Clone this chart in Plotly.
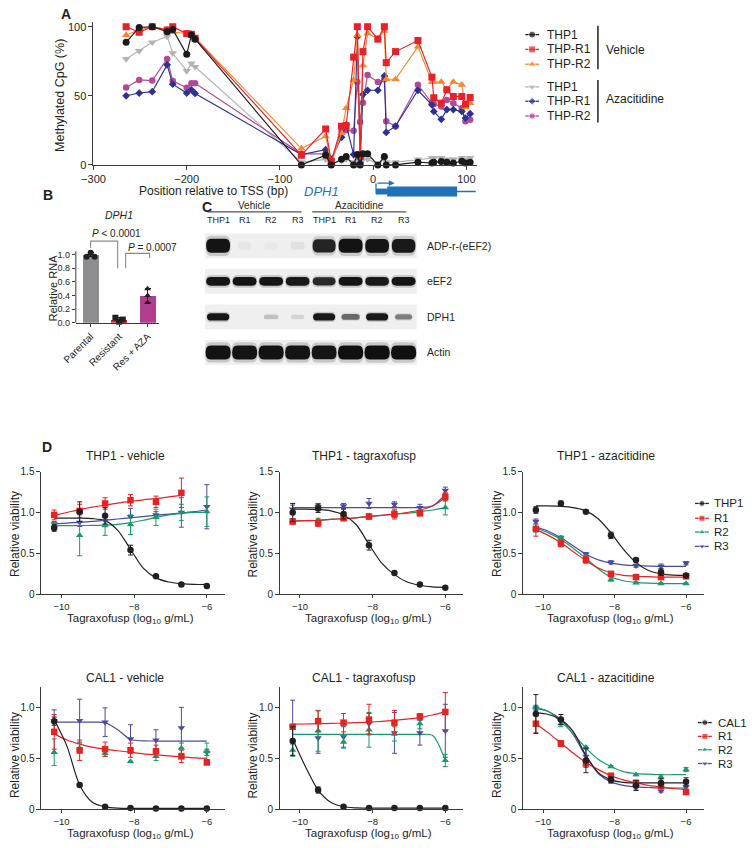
import plotly.graph_objects as go

W, H = 752, 848
FONT = "Liberation Sans, Arial, Helvetica, sans-serif"
INK = "#231f20"
AXC = "#3a3a3a"

# ============================ DATA ============================
# ---- Panel A : CpG methylation (%) along DPH1 promoter ----
cpg_position = [-265, -251, -237, -221, -215, -200, -195, -191, -77, -51, -45, -34, -29, -21, -17,
                -14, -11, -6, 5, 12, 14, 24, 48, 63, 65, 73, 79, 86, 95, 99, 104]
meth_thp1_vehicle = [88.7, 99.5, 100, 96.4, 98, 80, 94, 91, 0, 7, 0, 4, 6, 0, 7.5,
                     0, 8, 8, 0, 6, 0, 0, 2, 1.4, 2, 2.4, 2, 1.4, 2.6, 1.4, 2]
meth_r1_vehicle = [100, 96, 100, 97.6, 100, 95, 94.5, 91.6, 7, 26, 2.6, 28, 28.4, 78, 100,
                   6, 82, 100, 91, 100, 74, 82, 90, 63.5, 48.6, 44.7, 54.3, 49.5, 49.5, 44, 48.8]
meth_r2_vehicle = [94, 97.6, 100, 98, 96, 95, 95, 92, 11.8, 20.7, 1.4, 23, 41, 61.5, 94,
                   6, 72, 95, 91.6, 97, 62, 62, 85.6, 60, 60, 60, 55, 60, 58, 41.6, 44.7]
meth_thp1_aza = [76.7, 82.5, 88.7, 93, 80.8, 68, 73.5, 71, 2, 4, 1, 3, 4, 2, 3,
                 1, 4, 4, 1, 4, 2, 2, 4, 5, 5, 5, 4, 4, 5, 4, 5]
meth_r1_aza = [50, 52, 53, 72.4, 58.4, 52, 54.3, 51.7, 7.5, 11, 4, 20, 29, 7.5, 92.8,
               1.4, 51, 54, 54, 64.4, 23.5, 28, 54, 43.5, 38.7, 33, 40, 40, 38.7, 33.9, 37]
meth_r2_aza = [56, 61.5, 61, 76.7, 60.8, 55.8, 59, 59, 8, 8, 2.6, 24, 25, 24.8, 60,
               31, 45, 65, 60, 62, 31.5, 28, 58, 44.7, 44, 42.3, 47, 44.7, 41, 31.5, 32.7]
a_legend_names = ["THP1", "THP-R1", "THP-R2", "THP1", "THP-R1", "THP-R2"]
a_groups = ["Vehicle", "Azacitidine"]
a_xticks = [-300, -200, -100, 0, 100]
a_yticks = [0, 50, 100]

# gene model (bp relative to TSS)
gene_name = "DPH1"
gene_tss = 3
gene_utr = [3, 15]
gene_cds = [15, 90]
gene_end = 110

# ---- Panel B : DPH1 relative RNA ----
b_groups = ["Parental", "Resistant", "Res + AZA"]
b_mean = [1.0, 0.045, 0.40]
b_sd = [0.03, 0.03, 0.10]
b_pts_parental = [1.03, 0.97, 0.97]
b_pts_resistant = [0.075, 0.048, 0.016]
b_pts_aza = [0.50, 0.40, 0.30]
b_pvalues = ["<i>P</i> < 0.0001", "<i>P</i> = 0.0007"]
b_yticks = [0, 0.2, 0.4, 0.6, 0.8, 1.0]

# ---- Panel C : western blot band intensities (0-1) ----
blot_lanes = ["THP1", "R1", "R2", "R3", "THP1", "R1", "R2", "R3"]
blot_treatments = ["Vehicle", "Azacitidine"]
blot_proteins = ["ADP-r-(eEF2)", "eEF2", "DPH1", "Actin"]
band_adpr = [0.96, 0.03, 0.02, 0.05, 0.88, 0.97, 0.95, 0.93]
band_eef2 = [0.95, 0.95, 0.95, 0.93, 0.85, 0.95, 0.93, 0.95]
band_dph1 = [0.95, 0.0, 0.18, 0.10, 0.93, 0.55, 0.93, 0.45]
band_actin = [0.97, 0.96, 0.97, 0.96, 0.95, 0.98, 0.98, 0.98]

# ---- Panel D : viability vs tagraxofusp dose ----
dose_log = [-10.2, -9.5, -8.8, -8.1, -7.4, -6.7, -6.0]
fit_log = [-10.2, -9.85, -9.5, -9.15, -8.8, -8.45, -8.1, -7.75, -7.4, -7.05, -6.7, -6.35, -6.0]
d_xticks = [-10, -8, -6]
d_xticktext = ["\u221210", "\u22128", "\u22126"]
d_titles = ["THP1 - vehicle", "THP1 - tagraxofusp", "THP1 - azacitidine",
            "CAL1 - vehicle", "CAL1 - tagraxofusp", "CAL1 - azacitidine"]
d_names_thp1 = ["THP1", "R1", "R2", "R3"]
d_names_cal1 = ["CAL1", "R1", "R2", "R3"]

# THP1 - vehicle
tv_thp1 = [0.81, 1.01, 0.96, 0.54, 0.22, 0.12, 0.10]
tv_thp1_sd = [0.04, 0.12, 0.10, 0.06, 0.01, 0.01, 0.01]
tv_thp1_fit = [0.93, 0.93, 0.93, 0.925, 0.90, 0.78, 0.55, 0.32, 0.20, 0.15, 0.13, 0.12, 0.12]
tv_r1 = [0.97, 1.02, 1.11, 1.15, 1.13, 1.24, None]
tv_r1_sd = [0.06, 0.08, 0.07, 0.07, 0.07, 0.18, 0]
tv_r1_fit = [0.965, 1.0, 1.035, 1.065, 1.09, 1.115, 1.135, 1.155, 1.17, 1.19, 1.21, None, None]
tv_r2 = [0.84, 0.72, 0.84, 0.85, 0.94, 1.00, 1.01]
tv_r2_sd = [0.03, 0.25, 0.12, 0.12, 0.10, 0.10, 0.18]
tv_r2_fit = [0.84, 0.84, 0.84, 0.842, 0.845, 0.855, 0.875, 0.905, 0.94, 0.97, 0.99, 1.0, 1.005]
tv_r3 = [0.86, 0.88, 0.90, 0.95, 0.97, 1.00, 1.07]
tv_r3_sd = [0.03, 0.05, 0.05, 0.10, 0.04, 0.18, 0.27]
tv_r3_fit = [0.86, 0.87, 0.88, 0.89, 0.905, 0.92, 0.935, 0.95, 0.965, 0.98, 0.995, 1.01, 1.03]

# THP1 - tagraxofusp
tt_thp1 = [1.00, 1.05, 0.98, 0.60, 0.26, 0.12, 0.08]
tt_thp1_sd = [0.11, 0.05, 0.06, 0.06, 0.02, 0.01, 0.01]
tt_thp1_fit = [1.04, 1.04, 1.035, 1.02, 0.97, 0.85, 0.61, 0.38, 0.24, 0.15, 0.11, 0.09, 0.085]
tt_r1 = [0.89, 0.87, 0.93, 0.95, 0.98, 0.99, 1.19]
tt_r1_sd = [0.03, 0.04, 0.02, 0.03, 0.06, 0.03, 0.05]
tt_r1_fit = [0.895, 0.90, 0.905, 0.915, 0.925, 0.935, 0.95, 0.965, 0.98, 1.0, 1.03, 1.08, 1.18]
tt_r2 = [0.89, 0.90, 0.93, 0.96, 0.98, 1.00, 1.06]
tt_r2_sd = [0.03, 0.03, 0.03, 0.02, 0.04, 0.03, 0.09]
tt_r2_fit = [0.895, 0.90, 0.905, 0.915, 0.925, 0.935, 0.95, 0.965, 0.98, 0.99, 1.01, 1.03, 1.06]
tt_r3 = [1.04, 1.07, 1.08, 1.11, 1.10, 1.06, 1.27]
tt_r3_sd = [0.05, 0.04, 0.03, 0.06, 0.03, 0.04, 0.04]
tt_r3_fit = [1.06, 1.06, 1.06, 1.06, 1.06, 1.06, 1.06, 1.06, 1.06, 1.06, 1.06, 1.08, 1.22]

# THP1 - azacitidine
ta_thp1 = [1.03, 1.11, 1.01, 0.72, 0.42, 0.27, 0.23]
ta_thp1_sd = [0.04, 0.03, 0.01, 0.04, 0.02, 0.04, 0.02]
ta_thp1_fit = [1.08, 1.08, 1.075, 1.06, 1.02, 0.92, 0.75, 0.55, 0.39, 0.29, 0.25, 0.235, 0.23]
ta_r1 = [0.80, 0.62, 0.42, 0.25, 0.21, 0.21, 0.22]
ta_r1_sd = [0.09, 0.04, 0.04, 0.02, 0.02, 0.02, 0.03]
ta_r1_fit = [0.79, 0.72, 0.63, 0.52, 0.41, 0.32, 0.26, 0.23, 0.22, 0.215, 0.21, 0.21, 0.21]
ta_r2 = [0.81, 0.69, 0.45, 0.18, 0.14, 0.13, 0.13]
ta_r2_sd = [0.05, 0.02, 0.03, 0.02, 0.01, 0.01, 0.01]
ta_r2_fit = [0.81, 0.75, 0.67, 0.56, 0.44, 0.31, 0.21, 0.165, 0.145, 0.135, 0.13, 0.13, 0.13]
ta_r3 = [0.89, 0.69, 0.49, 0.39, 0.35, 0.34, 0.38]
ta_r3_sd = [0.03, 0.02, 0.02, 0.02, 0.02, 0.03, 0.02]
ta_r3_fit = [0.82, 0.77, 0.69, 0.59, 0.49, 0.42, 0.38, 0.36, 0.35, 0.345, 0.34, 0.34, 0.34]

# CAL1 - vehicle
cv_cal1 = [0.865, 0.24, 0.026, 0.013, 0.01, 0.01, 0.01]
cv_cal1_sd = [0.04, 0.01, 0.005, 0.0, 0.0, 0.0, 0.0]
cv_cal1_fit = [0.88, 0.62, 0.24, 0.07, 0.025, 0.012, 0.01, 0.01, 0.01, 0.01, 0.01, 0.01, 0.01]
cv_r1 = [0.76, 0.58, 0.59, 0.58, 0.57, 0.52, 0.46]
cv_r1_sd = [0.17, 0.10, 0.07, 0.07, 0.06, 0.06, 0.02]
cv_r1_fit = [0.74, 0.68, 0.64, 0.61, 0.59, 0.575, 0.56, 0.545, 0.535, 0.525, 0.515, 0.505, 0.50]
cv_r2 = [0.56, 0.60, 0.55, 0.47, 0.52, 0.60, 0.57]
cv_r2_sd = [0.13, 0.05, 0.03, 0.0, 0.04, 0.05, 0.08]
cv_r2_fit = None
cv_r3 = [0.865, 0.87, 0.855, 0.69, 0.68, 0.80, 0.56]
cv_r3_sd = [0.11, 0.21, 0.14, 0.14, 0.10, 0.20, 0.03]
cv_r3_fit = [0.855, 0.855, 0.855, 0.855, 0.85, 0.78, 0.685, 0.672, 0.67, 0.67, 0.67, 0.67, 0.67]

# CAL1 - tagraxofusp
ct_cal1 = [0.67, 0.19, 0.026, 0.013, 0.013, 0.013, 0.013]
ct_cal1_sd = [0.14, 0.03, 0.005, 0.0, 0.0, 0.0, 0.0]
ct_cal1_fit = [0.69, 0.42, 0.19, 0.07, 0.026, 0.015, 0.013, 0.013, 0.013, 0.013, 0.013, 0.013, 0.013]
ct_r1 = [0.81, 0.865, 0.85, 0.88, 0.85, 0.91, 0.955]
ct_r1_sd = [0.02, 0.10, 0.09, 0.15, 0.12, 0.03, 0.19]
ct_r1_fit = [0.835, 0.837, 0.84, 0.843, 0.846, 0.85, 0.855, 0.863, 0.873, 0.885, 0.90, 0.925, 0.955]
ct_r2 = [0.58, 0.77, 0.66, 0.78, 0.74, 0.84, 0.48]
ct_r2_sd = [0.06, 0.20, 0.06, 0.17, 0.07, 0.05, 0.06]
ct_r2_fit = [0.735, 0.735, 0.735, 0.735, 0.735, 0.735, 0.735, 0.735, 0.735, 0.735, 0.735, 0.725, 0.48]
ct_r3 = [0.80, 0.70, 0.71, 0.84, 0.75, 0.75, 0.77]
ct_r3_sd = [0.27, 0.15, 0.10, 0.10, 0.20, 0.12, 0.26]
ct_r3_fit = None

# CAL1 - azacitidine
ca_cal1 = [0.935, 0.88, 0.48, 0.29, 0.235, 0.26, 0.27]
ca_cal1_sd = [0.19, 0.05, 0.12, 0.03, 0.05, 0.04, 0.04]
ca_cal1_fit = [0.945, 0.93, 0.88, 0.76, 0.53, 0.36, 0.29, 0.265, 0.26, 0.26, 0.26, 0.26, 0.26]
ca_r1 = [0.84, 0.645, 0.45, 0.33, 0.26, 0.23, 0.17]
ca_r1_sd = [0.09, 0.03, 0.04, 0.02, 0.02, 0.02, 0.01]
ca_r1_fit = [0.84, 0.75, 0.65, 0.55, 0.46, 0.39, 0.33, 0.29, 0.26, 0.235, 0.22, 0.205, 0.195]
ca_r2 = [1.0, 0.84, 0.61, 0.42, 0.34, 0.32, 0.39]
ca_r2_sd = [0.02, 0.03, 0.01, 0.01, 0.01, 0.02, 0.02]
ca_r2_fit = [1.0, 0.96, 0.86, 0.74, 0.60, 0.49, 0.42, 0.37, 0.35, 0.345, 0.34, 0.34, 0.34]
ca_r3 = [0.99, 0.865, 0.52, 0.28, 0.22, 0.18, 0.22]
ca_r3_sd = [0.02, 0.03, 0.07, 0.02, 0.02, 0.01, 0.02]
ca_r3_fit = [0.99, 0.96, 0.88, 0.73, 0.52, 0.35, 0.27, 0.235, 0.22, 0.215, 0.21, 0.21, 0.21]

# ============================ HELPERS ============================
def fx(p):
    return p / W


def fy(p):
    return 1 - p / H


fig = go.Figure()
annotations = []
shapes = []
layout_axes = {}


def label(text, x, y, size, anchor="center", color=INK, angle=0, yanchor="middle"):
    annotations.append(dict(text=text, x=fx(x), y=fy(y), xref="paper", yref="paper",
                            xanchor=anchor, yanchor=yanchor, showarrow=False, textangle=angle,
                            font=dict(size=size, color=color, family=FONT)))


def axis_style(**kw):
    base = dict(showgrid=False, zeroline=False, showline=True, linecolor=AXC, linewidth=1,
                ticks="outside", ticklen=4, tickwidth=1, tickcolor=AXC,
                tickfont=dict(size=10, color=INK, family=FONT), fixedrange=True)
    base.update(kw)
    return base


# ============================ PANEL A ============================
A_COL = ["#1a1a1a", "#e8202a", "#f5892b", "#b3b3b3", "#2e3192", "#b04a97"]
A_SYM = ["circle", "square", "triangle-up", "triangle-down", "diamond", "circle"]
A_SIZE = [7, 7, 7.5, 7.5, 6, 6.5]
a_series = [meth_thp1_vehicle, meth_r1_vehicle, meth_r2_vehicle, meth_thp1_aza, meth_r1_aza, meth_r2_aza]
for i in [3, 5, 4, 2, 1, 0]:
    fig.add_trace(go.Scatter(x=cpg_position, y=a_series[i], mode="lines+markers",
                             line=dict(color=A_COL[i], width=1.15),
                             marker=dict(color=A_COL[i], symbol=A_SYM[i], size=A_SIZE[i]),
                             cliponaxis=False, xaxis="x", yaxis="y", showlegend=False,
                             hoverinfo="skip"))

A_XMAX = 111
A_L, A_R = 81, 81 + (A_XMAX + 300) * 0.95
A_B = 162
A_T = A_B - 103.6 * 1.4
layout_axes["xaxis"] = axis_style(domain=[fx(A_L), fx(A_R)], range=[-300, A_XMAX], anchor="y",
                                  tickvals=a_xticks,
                                  ticktext=[("\u2212" + str(-v)) if v < 0 else str(v) for v in a_xticks],
                                  tickfont=dict(size=11, color=INK, family=FONT))
layout_axes["yaxis"] = axis_style(domain=[fy(A_B), fy(A_T)], range=[0, 103.6], anchor="x",
                                  tickvals=a_yticks, ticktext=[str(v) for v in a_yticks],
                                  tickfont=dict(size=11, color=INK, family=FONT))
label("<b>A</b>", 53, 9, 14)
label("Methylated CpG (%)", 47, 92, 12.5, angle=-90)
label("Position relative to TSS (bp)", 203, 188, 12)

# gene model
GENE = "#1f72b8"
layout_axes["xaxis2"] = dict(domain=[fx(A_L), fx(A_R)], range=[-300, A_XMAX], visible=False,
                             anchor="y2", fixedrange=True)
layout_axes["yaxis2"] = dict(domain=[fy(199), fy(179)], range=[-1, 1], visible=False,
                             anchor="x2", fixedrange=True)
shapes.append(dict(type="line", xref="x2", yref="y2", x0=gene_tss, x1=gene_end, y0=0, y1=0,
                   line=dict(color=GENE, width=1.4)))
shapes.append(dict(type="rect", xref="x2", yref="y2", x0=gene_utr[0], x1=gene_utr[1], y0=-0.25,
                   y1=0.25, fillcolor=GENE, line=dict(color=GENE, width=1)))
shapes.append(dict(type="rect", xref="x2", yref="y2", x0=gene_cds[0], x1=gene_cds[1], y0=-0.5,
                   y1=0.5, fillcolor=GENE, line=dict(color=GENE, width=0)))
shapes.append(dict(type="line", xref="x2", yref="y2", x0=gene_tss, x1=gene_tss, y0=0.25, y1=0.85,
                   line=dict(color=GENE, width=1.3)))
annotations.append(dict(x=gene_tss + 20, y=0.85, ax=gene_tss, ay=0.85, xref="x2", yref="y2",
                        axref="x2", ayref="y2", text="", showarrow=True, arrowhead=2,
                        arrowsize=0.9, arrowwidth=1.3, arrowcolor=GENE))
annotations.append(dict(x=-35, y=0, xref="x2", yref="y2", xanchor="right", yanchor="middle",
                        text="<i>" + gene_name + "</i>", showarrow=False,
                        font=dict(size=13, color=GENE, family=FONT)))

# ============================ PANEL B ============================
B_L, B_R, B_B = 63, 148, 322
B_UNIT = 69.0
B_YMAX = 1.25
B_T = B_B - B_YMAX * B_UNIT
B_COL = ["#8d8d8f", "#d42a2f", "#b13d8e"]
layout_axes["xaxis3"] = axis_style(domain=[fx(B_L), fx(B_R)], range=[-0.52, 2.41], anchor="y3",
                                   tickvals=[0, 1, 2], ticktext=b_groups, tickangle=-45, ticklen=3,
                                   tickfont=dict(size=10, color=INK, family=FONT))
layout_axes["yaxis3"] = axis_style(domain=[fy(B_B), fy(B_T)], range=[0, B_YMAX], anchor="x3",
                                   showline=False, tickvals=b_yticks, ticklen=3,
                                   ticktext=["%.1f" % v for v in b_yticks],
                                   tickfont=dict(size=9, color=INK, family=FONT))
shapes.append(dict(type="line", xref="x3 domain", yref="y3", x0=0, x1=0, y0=0, y1=1.05,
                   line=dict(color=AXC, width=1)))
fig.add_trace(go.Bar(x=[0, 1, 2], y=b_mean, width=0.56, marker=dict(color=B_COL, line=dict(width=0)),
                     error_y=dict(type="data", array=b_sd, color=INK, thickness=1, width=3),
                     xaxis="x3", yaxis="y3", showlegend=False, hoverinfo="skip"))
b_offsets = [[0, -0.14, 0.14], [-0.13, 0.13, 0.0], [0, 0, 0]]
b_syms = ["circle", "square", "triangle-up"]
for gi, pts in enumerate([b_pts_parental, b_pts_resistant, b_pts_aza]):
    fig.add_trace(go.Scatter(x=[gi + o for o in b_offsets[gi]], y=pts, mode="markers",
                             marker=dict(color=INK, size=6, symbol=b_syms[gi]),
                             cliponaxis=False, xaxis="x3", yaxis="y3", showlegend=False,
                             hoverinfo="skip"))
BR = "#8a8a8a"
for (xl, xr, top, lb, rb) in [(0, 0.95, 1.2, 1.1, 0.8), (1.23, 2.07, 1.02, 0.8, 0.95)]:
    shapes.append(dict(type="path", xref="x3", yref="y3",
                       path=f"M {xl},{lb} L {xl},{top} L {xr},{top} L {xr},{rb}",
                       line=dict(color=BR, width=1.1)))
label(b_pvalues[0], 104, 231, 10)
label(b_pvalues[1], 141, 246, 10)
label("<b>B</b>", 35, 192, 14)
label("<i>DPH1</i>", 107, 213, 10.5)
label("Relative RNA", 40, 287, 11, angle=-90)

# ============================ PANEL C ============================
C_L, C_R, C_T, C_B = 194.5, 410.5, 226, 370
layout_axes["xaxis4"] = dict(domain=[fx(C_L), fx(C_R)], range=[0.5, 8.5], visible=False,
                             anchor="y4", fixedrange=True)
layout_axes["yaxis4"] = dict(domain=[fy(C_B), fy(C_T)], range=[4.5, 0.5], visible=False,
                             anchor="x4", fixedrange=True)
row_base = [(0.92, 0.40), (0.92, 0.25), (0.86, 0.21), (0.96, 0.40)]


def band_path(cx, cy, w, h):
    l, rr, t, b = cx - w / 2, cx + w / 2, cy - h / 2, cy + h / 2
    rad = w * 0.2
    return (f"M {l + rad},{t} L {rr - rad},{t} Q {rr},{t} {rr},{cy} Q {rr},{b} {rr - rad},{b} "
            f"L {l + rad},{b} Q {l},{b} {l},{cy} Q {l},{t} {l + rad},{t} Z")


for r, bands in enumerate([band_adpr, band_eef2, band_dph1, band_actin]):
    cy = r + 1
    shapes.append(dict(type="rect", xref="x4", yref="y4", x0=0.5, x1=8.5, y0=cy - 0.35,
                       y1=cy + 0.35, fillcolor="#efefef", line=dict(width=0), layer="below"))
    bw, bh = row_base[r]
    for li, inten in enumerate(bands):
        if inten <= 0:
            continue
        cx = li + 1
        w = bw * (0.55 + 0.45 * inten)
        h = bh * (0.5 + 0.5 * inten)
        shapes.append(dict(type="path", xref="x4", yref="y4", path=band_path(cx, cy, w * 1.06, h * 1.45),
                           fillcolor=f"rgba(20,20,20,{0.18 * inten:.3f})", line=dict(width=0)))
        shapes.append(dict(type="path", xref="x4", yref="y4", path=band_path(cx, cy, w, h),
                           fillcolor=f"rgba(12,12,12,{inten:.2f})", line=dict(width=0)))
    label(blot_proteins[r], C_R + 8, C_T + (C_B - C_T) * (r + 0.5) / 4, 10.5, anchor="left")
for li, name in enumerate(blot_lanes):
    annotations.append(dict(text=name, x=li + 1, y=fy(217.5), xref="x4", yref="paper",
                            showarrow=False, xanchor="center", yanchor="middle",
                            font=dict(size=9, color=INK, family=FONT)))
for gi, (g, (x0, x1)) in enumerate(zip(blot_treatments, [(0.6, 4.15), (4.55, 8.1)])):
    annotations.append(dict(text=g, x=(x0 + x1) / 2, y=fy(203.5), xref="x4", yref="paper",
                            showarrow=False, xanchor="center", yanchor="middle",
                            font=dict(size=10, color=INK, family=FONT)))
    shapes.append(dict(type="line", xref="x4", yref="paper", x0=x0, x1=x1, y0=fy(209.5),
                       y1=fy(209.5), line=dict(color="#555555", width=1.2)))
label("<b>C</b>", 197, 205, 14)

# ============================ PANEL D ============================
D_COL = ["#231f20", "#e52421", "#189a6c", "#4b4a9e"]
D_SYM = ["circle", "square", "triangle-up", "triangle-down"]
D_SIZE = [6.5, 6.5, 6.5, 6.5]
d_panels = [
    [(tv_thp1, tv_thp1_sd, tv_thp1_fit), (tv_r1, tv_r1_sd, tv_r1_fit), (tv_r2, tv_r2_sd, tv_r2_fit), (tv_r3, tv_r3_sd, tv_r3_fit)],
    [(tt_thp1, tt_thp1_sd, tt_thp1_fit), (tt_r1, tt_r1_sd, tt_r1_fit), (tt_r2, tt_r2_sd, tt_r2_fit), (tt_r3, tt_r3_sd, tt_r3_fit)],
    [(ta_thp1, ta_thp1_sd, ta_thp1_fit), (ta_r1, ta_r1_sd, ta_r1_fit), (ta_r2, ta_r2_sd, ta_r2_fit), (ta_r3, ta_r3_sd, ta_r3_fit)],
    [(cv_cal1, cv_cal1_sd, cv_cal1_fit), (cv_r1, cv_r1_sd, cv_r1_fit), (cv_r2, cv_r2_sd, cv_r2_fit), (cv_r3, cv_r3_sd, cv_r3_fit)],
    [(ct_cal1, ct_cal1_sd, ct_cal1_fit), (ct_r1, ct_r1_sd, ct_r1_fit), (ct_r2, ct_r2_sd, ct_r2_fit), (ct_r3, ct_r3_sd, ct_r3_fit)],
    [(ca_cal1, ca_cal1_sd, ca_cal1_fit), (ca_r1, ca_r1_sd, ca_r1_fit), (ca_r2, ca_r2_sd, ca_r2_fit), (ca_r3, ca_r3_sd, ca_r3_fit)],
]
d_cols = [(28, 215), (271, 458), (519, 703)]
d_rows = [dict(zero=597, top=472.7, ymax=1.5, ticks=[0, 0.5, 1.0, 1.5], title_y=457, xt_y=622.5, yt_y=536),
          dict(zero=815, top=690.9, ymax=1.2, ticks=[0, 0.5, 1.0], title_y=682, xt_y=840, yt_y=760)]

for k, series in enumerate(d_panels):
    row, col = d_rows[k // 3], d_cols[k % 3]
    n = 5 + k
    xa, ya = f"x{n}", f"y{n}"
    layout_axes[f"xaxis{n}"] = axis_style(domain=[fx(col[0]), fx(col[1])], range=[-10.55, -5.5],
                                          anchor=ya, tickvals=d_xticks, ticktext=d_xticktext,
                                          ticklen=3, tickfont=dict(size=9.5, color=INK, family=FONT))
    layout_axes[f"yaxis{n}"] = axis_style(domain=[fy(row["zero"]), fy(row["top"])],
                                          range=[0, row["ymax"]], anchor=xa, tickvals=row["ticks"],
                                          ticktext=["0" if v == 0 else "%.1f" % v for v in row["ticks"]])
    for si in [3, 2, 1, 0]:
        pts, sd, fit = series[si]
        if fit is not None:
            fig.add_trace(go.Scatter(x=fit_log, y=fit, mode="lines",
                                     line=dict(color=D_COL[si], width=1.2, shape="spline", smoothing=0.8),
                                     xaxis=xa, yaxis=ya, showlegend=False, hoverinfo="skip"))
    for si in [3, 2, 1, 0]:
        pts, sd, fit = series[si]
        fig.add_trace(go.Scatter(x=dose_log, y=pts, mode="markers",
                                 marker=dict(color=D_COL[si], symbol=D_SYM[si], size=D_SIZE[si]),
                                 error_y=dict(type="data", array=sd, color=D_COL[si], thickness=1, width=2.5),
                                 cliponaxis=False, xaxis=xa, yaxis=ya, showlegend=False,
                                 hoverinfo="skip"))
    cx = (col[0] + col[1]) / 2
    label(d_titles[k], cx - 8, row["title_y"], 12)
    label("Tagraxofusp (log<sub>10</sub> g/mL)", cx - 3, row["xt_y"], 11.5)
    label("Relative viability", col[0] - 27, row["yt_y"], 12, angle=-90)
label("<b>D</b>", 34, 448, 14)

# ============================ LEGENDS (overlay) ============================
layout_axes["xaxis11"] = dict(domain=[0, 1], range=[0, W], visible=False, anchor="y11", fixedrange=True)
layout_axes["yaxis11"] = dict(domain=[0, 1], range=[H, 0], visible=False, anchor="x11", fixedrange=True)


def legend_item(xc, yc, color, symbol, size, text, text_x, tsize):
    fig.add_trace(go.Scatter(x=[xc - 7, xc, xc + 7], y=[yc, yc, yc], mode="lines+markers",
                             line=dict(color=color, width=1.3),
                             marker=dict(color=color, symbol=symbol, size=[0, size, 0]),
                             xaxis="x11", yaxis="y11", showlegend=False, hoverinfo="skip",
                             cliponaxis=False))
    label(text, text_x, yc, tsize, anchor="left")


for i, yy in enumerate([30, 45, 60, 83, 97.5, 112.5]):
    legend_item(528, yy, A_COL[i], A_SYM[i], A_SIZE[i], a_legend_names[i], 541, 12)
for (y0, y1), g, gy in zip([(21, 65), (76, 119)], a_groups, [46, 95]):
    shapes.append(dict(type="line", xref="paper", yref="paper", x0=fx(595), x1=fx(595),
                       y0=fy(y0), y1=fy(y1), line=dict(color=INK, width=1.5)))
    label(g, 601, gy, 12, anchor="left")

for i, yy in enumerate([505, 520, 534, 548.5]):
    legend_item(701, yy, D_COL[i], D_SYM[i], 6, d_names_thp1[i], 711, 11.5)
for i, yy in enumerate([727, 741, 754.5, 768.5]):
    legend_item(704, yy, D_COL[i], D_SYM[i], 6, d_names_cal1[i], 715, 11.5)

fig.update_layout(width=W, height=H, autosize=False, margin=dict(l=0, r=0, t=0, b=0, pad=0),
                  paper_bgcolor="white", plot_bgcolor="rgba(0,0,0,0)", showlegend=False,
                  hovermode=False, annotations=annotations, shapes=shapes,
                  font=dict(family=FONT, color=INK), bargap=0, **layout_axes)

fig.write_html("out.html", config={"displayModeBar": False, "staticPlot": True},
               post_script="document.body.style.margin='0';document.body.style.overflow='hidden';")
